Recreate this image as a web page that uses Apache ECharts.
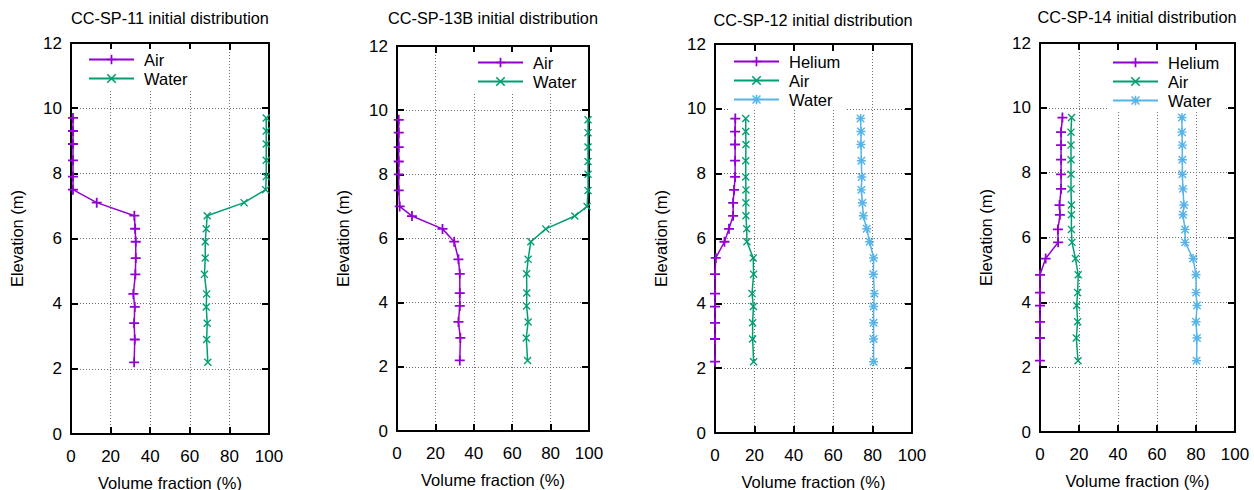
<!DOCTYPE html>
<html>
<head>
<meta charset="utf-8">
<script src="https://cdn.jsdelivr.net/npm/echarts@6/dist/echarts.min.js"></script>
<style>
  html, body { margin: 0; padding: 0; background: #fff; }
  #chart { width: 1254px; height: 490px; }
</style>
</head>
<body>
<div id="chart"></div>
<script>
// Axis ticks
const xTicks = [0, 20, 40, 60, 80, 100];
const yTicks = [0, 2, 4, 6, 8, 10, 12];

// CC-SP-11
const elev11 = [9.7, 9.3, 8.9, 8.4, 7.9, 7.5, 7.1, 6.7, 6.3, 5.9, 5.4, 4.9, 4.3, 3.9, 3.4, 2.9, 2.2];
const air11 = [1, 1, 1, 1, 1, 1, 13, 32, 32.4, 32.7, 32.7, 32.5, 31.5, 32.2, 31.9, 32.2, 31.9];
const water11 = [98.6, 98.6, 98.6, 98.6, 98.6, 98.3, 87.4, 68.8, 68.3, 67.8, 67.8, 67.4, 68.5, 68.3, 68.8, 68.5, 69.1];

// CC-SP-13B
const elev13B = [9.7, 9.3, 8.85, 8.4, 8.0, 7.5, 7.0, 6.7, 6.3, 5.9, 5.35, 4.9, 4.3, 3.9, 3.4, 2.9, 2.2];
const air13B = [0.9, 0.9, 0.9, 0.9, 0.9, 0.9, 1.4, 7.8, 23.7, 29.8, 32, 32.7, 32.7, 32.7, 32, 33, 32.7];
const water13B = [99.5, 99.5, 99.5, 99.5, 99.5, 99.5, 99, 92.6, 77.5, 69.7, 68.3, 67.5, 67.6, 67.5, 68.3, 67.3, 68];

// CC-SP-12
const elev12 = [9.7, 9.3, 8.9, 8.4, 7.9, 7.5, 7.1, 6.7, 6.3, 5.9, 5.4, 4.9, 4.3, 3.9, 3.4, 2.9, 2.2];
const helium12 = [10.3, 10.2, 10.2, 10.2, 10.2, 9.7, 9.2, 9.2, 7.1, 4.8, 0.4, 0, 0, 0, 0, 0, 0];
const air12 = [15.6, 15.6, 15.7, 15.6, 15.6, 15.7, 15.7, 15.7, 16.1, 16.2, 19.4, 19.6, 18.8, 19.5, 19.1, 19.1, 19.6];
const water12 = [73.9, 74.1, 74.1, 74.3, 74.5, 74.3, 74.8, 75.3, 77, 78.5, 80.5, 80.4, 80.9, 80.5, 80.5, 80.5, 80.5];

// CC-SP-14
const elev14 = [9.7, 9.25, 8.85, 8.4, 7.95, 7.5, 7.0, 6.7, 6.25, 5.85, 5.35, 4.85, 4.3, 3.9, 3.4, 2.9, 2.2];
const helium14 = [11.5, 10.8, 10.8, 10.8, 10.8, 10.8, 10, 10.2, 9.2, 9.3, 2.9, 0, 0, 0, 0, 0, 0];
const air14 = [16.2, 15.9, 15.9, 15.9, 15.9, 15.9, 16.1, 16.1, 16.1, 16.4, 18.2, 19.6, 19.3, 18.8, 19.3, 18.6, 19.5];
const water14 = [72.8, 72.8, 73, 73, 73, 73.3, 73.8, 73.3, 74.4, 74.4, 78.5, 80, 80, 80.5, 80, 80.5, 80.3];

const COLORS = { purple: '#9400d3', green: '#009e73', blue: '#56b4e9' };

// Point glyphs: plus, cross, and star (plus + cross)
const PLUS = 'path://M4.1,0H5.9V10H4.1Z M0,4.1H10V5.9H0Z';
const CROSS = 'path://M0,1.2L1.2,0L10,8.8L8.8,10Z M8.8,0L10,1.2L1.2,10L0,8.8Z';
const STAR = 'path://M4.2,0H5.8V10H4.2Z M0,4.2H10V5.8H0Z M0.3,1.4L1.4,0.3L9.7,8.6L8.6,9.7Z M8.6,0.3L9.7,1.4L1.4,9.7L0.3,8.6Z';

const FONT = 'Liberation Sans, Arial, Helvetica, sans-serif';

const panels = [
  { title: 'CC-SP-11 initial distribution', rect: [71, 43, 198, 391], titleXY: [170, 18],
    legend: { left: 84, top: 49 },
    series: [
      { name: 'Air', x: air11, y: elev11, color: COLORS.purple, symbol: PLUS, size: 10 },
      { name: 'Water', x: water11, y: elev11, color: COLORS.green, symbol: CROSS, size: 8 }
    ] },
  { title: 'CC-SP-13B initial distribution', rect: [397, 46, 192, 385], titleXY: [493, 18],
    legend: { left: 473, top: 52 },
    series: [
      { name: 'Air', x: air13B, y: elev13B, color: COLORS.purple, symbol: PLUS, size: 10 },
      { name: 'Water', x: water13B, y: elev13B, color: COLORS.green, symbol: CROSS, size: 8 }
    ] },
  { title: 'CC-SP-12 initial distribution', rect: [715, 44, 197, 389], titleXY: [813, 20],
    legend: { left: 729, top: 51 },
    series: [
      { name: 'Helium', x: helium12, y: elev12, color: COLORS.purple, symbol: PLUS, size: 10 },
      { name: 'Air', x: air12, y: elev12, color: COLORS.green, symbol: CROSS, size: 8 },
      { name: 'Water', x: water12, y: elev12, color: COLORS.blue, symbol: STAR, size: 9 }
    ] },
  { title: 'CC-SP-14 initial distribution', rect: [1040, 43, 195, 389], titleXY: [1137, 17],
    legend: { left: 1108, top: 52 },
    series: [
      { name: 'Helium', x: helium14, y: elev14, color: COLORS.purple, symbol: PLUS, size: 10 },
      { name: 'Air', x: air14, y: elev14, color: COLORS.green, symbol: CROSS, size: 8 },
      { name: 'Water', x: water14, y: elev14, color: COLORS.blue, symbol: STAR, size: 9 }
    ] }
];

const grid = [], xAxis = [], yAxis = [], series = [], legend = [], graphic = [];

const frameLine = { show: true, onZero: false, lineStyle: { color: '#000', width: 2 } };
const inTick = { show: true, inside: true, length: 7, lineStyle: { color: '#000', width: 2 } };
const dotted = { show: true, lineStyle: { color: '#6f6f6f', width: 1, type: [1, 2] } };

panels.forEach((p, i) => {
  const [l, t, w, h] = p.rect;
  grid.push({ left: l, top: t, width: w, height: h, containLabel: false, outerBoundsMode: 'none' });

  // bottom (labelled) and top (mirror) value axes
  xAxis.push({
    type: 'value', gridIndex: i, position: 'bottom', min: xTicks[0], max: xTicks[xTicks.length - 1],
    interval: xTicks[1] - xTicks[0],
    axisLine: frameLine, axisTick: inTick, splitLine: dotted,
    axisLabel: { color: '#000', fontSize: 17, fontFamily: FONT, margin: 14 },
    name: 'Volume fraction (%)', nameLocation: 'middle', nameGap: 40,
    nameTextStyle: { color: '#000', fontSize: 16.5, fontFamily: FONT }
  });
  xAxis.push({
    type: 'value', gridIndex: i, position: 'top', min: xTicks[0], max: xTicks[xTicks.length - 1],
    interval: xTicks[1] - xTicks[0],
    axisLine: frameLine, axisTick: inTick, splitLine: { show: false }, axisLabel: { show: false }
  });
  // left (labelled) and right (mirror) elevation axes
  yAxis.push({
    type: 'value', gridIndex: i, position: 'left', min: yTicks[0], max: yTicks[yTicks.length - 1],
    interval: yTicks[1] - yTicks[0],
    axisLine: frameLine, axisTick: inTick, splitLine: dotted,
    axisLabel: { color: '#000', fontSize: 17, fontFamily: FONT, margin: 9 },
    name: 'Elevation (m)', nameLocation: 'middle', nameGap: 46, nameRotate: 90,
    nameTextStyle: { color: '#000', fontSize: 16.5, fontFamily: FONT }
  });
  yAxis.push({
    type: 'value', gridIndex: i, position: 'right', min: yTicks[0], max: yTicks[yTicks.length - 1],
    interval: yTicks[1] - yTicks[0],
    axisLine: frameLine, axisTick: inTick, splitLine: { show: false }, axisLabel: { show: false }
  });

  const names = [];
  p.series.forEach((s, k) => {
    const id = 'p' + i + '_' + s.name;
    names.push(id);
    series.push({
      type: 'line', id: id, name: id,
      xAxisIndex: i * 2, yAxisIndex: i * 2,
      data: s.x.map((v, j) => [v, s.y[j]]),
      symbol: s.symbol, symbolSize: s.size, showSymbol: true,
      color: s.color,
      lineStyle: { color: s.color, width: 1.5 },
      itemStyle: { color: s.color, borderWidth: 0 },
      animation: false, z: 3 + k
    });
  });

  legend.push({
    data: names.map(n => ({ name: n })),
    orient: 'vertical', left: p.legend.left, top: p.legend.top,
    itemWidth: 45, itemHeight: 12, itemGap: 2,
    backgroundColor: '#fff', padding: [2, 6, 2, 4],
    selectedMode: false,
    formatter: n => n.split('_')[1],
    textStyle: { color: '#000', fontSize: 16.5, fontFamily: FONT, padding: [0, 0, 0, 5] },
    z: 10
  });

  graphic.push({
    type: 'text', x: p.titleXY[0], y: p.titleXY[1],
    style: { text: p.title, fill: '#000', font: '16.3px ' + FONT, textAlign: 'center', textVerticalAlign: 'middle' }
  });
});

const chart = echarts.init(document.getElementById('chart'), null, { renderer: 'svg' });
chart.setOption({
  backgroundColor: '#fff',
  animation: false,
  grid, xAxis, yAxis, series, legend, graphic
});
</script>
</body>
</html>
